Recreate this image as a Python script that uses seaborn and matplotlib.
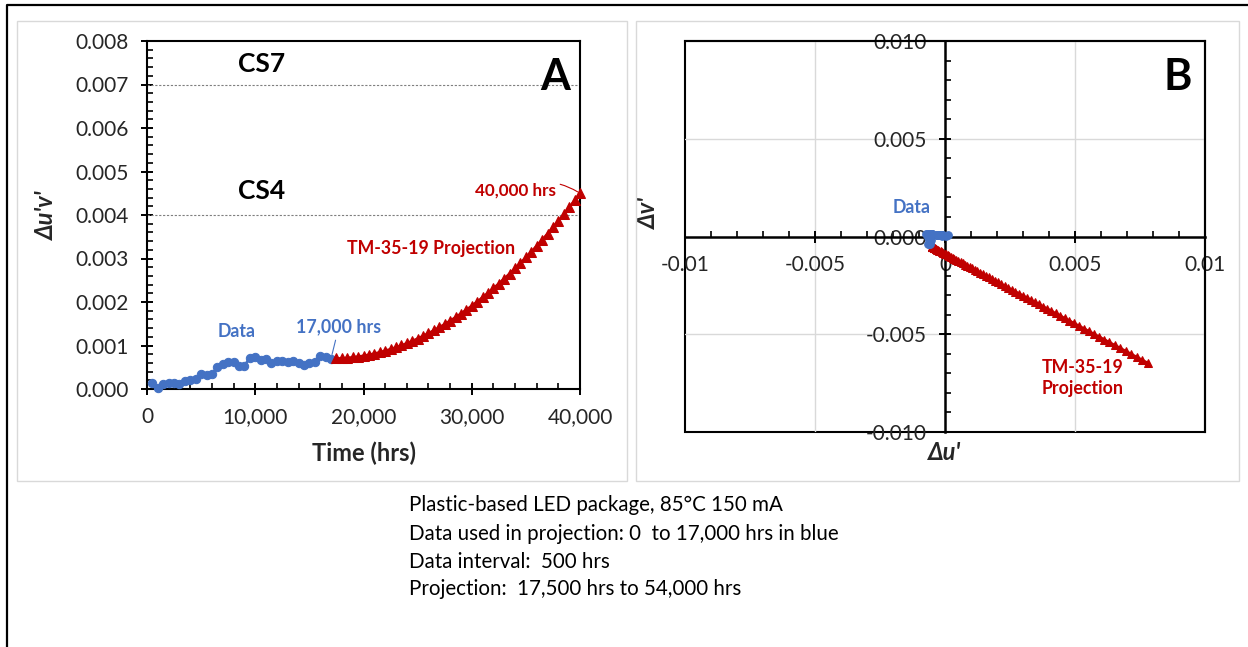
import numpy as np
import matplotlib
matplotlib.use("Agg")
import matplotlib.pyplot as plt
from matplotlib.patches import Rectangle
from matplotlib.lines import Line2D
from matplotlib.ticker import MultipleLocator
import seaborn as sns

# ---- measured chromaticity shift, plastic-based LED package (85 C, 150 mA) ----
hours_data = [500, 1000, 1500, 2000, 2500, 3000, 3500, 4000, 4500, 5000,
              5500, 6000, 6500, 7000, 7500, 8000, 8500, 9000, 9500, 10000,
              10500, 11000, 11500, 12000, 12500, 13000, 13500, 14000, 14500, 15000,
              15500, 16000, 16500, 17000]
duv_data = [0.000145, 0.000030, 0.000110, 0.000138, 0.000130, 0.000110, 0.000177, 0.000207, 0.000237, 0.000337,
            0.000314, 0.000337, 0.000506, 0.000580, 0.000620, 0.000620, 0.000530, 0.000530, 0.000720, 0.000736,
            0.000670, 0.000680, 0.000590, 0.000640, 0.000640, 0.000630, 0.000640, 0.000600, 0.000550, 0.000600,
            0.000630, 0.000760, 0.000740, 0.000700]

# ---- TM-35-19 projection of the shift magnitude ----
hours_proj = [17500, 18000, 18500, 19000, 19500, 20000, 20500, 21000, 21500, 22000,
              22500, 23000, 23500, 24000, 24500, 25000, 25500, 26000, 26500, 27000,
              27500, 28000, 28500, 29000, 29500, 30000, 30500, 31000, 31500, 32000,
              32500, 33000, 33500, 34000, 34500, 35000, 35500, 36000, 36500, 37000,
              37500, 38000, 38500, 39000, 39500, 40000]
duv_proj = [0.000702, 0.000707, 0.000716, 0.000729, 0.000745, 0.000765, 0.000788, 0.000815, 0.000845, 0.000880,
            0.000917, 0.000958, 0.001003, 0.001052, 0.001104, 0.001160, 0.001219, 0.001282, 0.001348, 0.001418,
            0.001492, 0.001569, 0.001650, 0.001734, 0.001822, 0.001913, 0.002009, 0.002107, 0.002210, 0.002316,
            0.002425, 0.002538, 0.002655, 0.002775, 0.002899, 0.003026, 0.003157, 0.003292, 0.003430, 0.003572,
            0.003717, 0.003866, 0.004019, 0.004175, 0.004335, 0.004498]

# ---- chromaticity components (du', dv'), measured ----
du_data = [0.00010, 0.00002, -0.00008, -0.00011, -0.00011, -0.00010, -0.00016, -0.00019, -0.00022, -0.00032,
           -0.00030, -0.00032, -0.00049, -0.00056, -0.00060, -0.00060, -0.00051, -0.00051, -0.00070, -0.00072,
           -0.00066, -0.00067, -0.00058, -0.00064, -0.00064, -0.00062, -0.00062, -0.00057, -0.00052, -0.00056,
           -0.00057, -0.00066, -0.00062, -0.00058]
dv_data = [0.00010, 0.00002, 0.00007, 0.00008, 0.00007, 0.00005, 0.00008, 0.00008, 0.00009, 0.00010,
           0.00009, 0.00010, 0.00012, 0.00013, 0.00014, 0.00014, 0.00012, 0.00012, 0.00014, 0.00013,
           0.00010, 0.00009, 0.00005, 0.00002, -0.00002, -0.00008, -0.00014, -0.00018, -0.00019, -0.00022,
           -0.00027, -0.00037, -0.00040, -0.00040]

# ---- chromaticity components, TM-35-19 projection 17,500 - 54,000 hrs ----
du_proj = [-0.000510, -0.000505, -0.000498, -0.000487, -0.000474, -0.000457, -0.000437, -0.000414, -0.000388, -0.000359,
           -0.000327, -0.000292, -0.000254, -0.000213, -0.000169, -0.000122, -0.000072, -0.000019, 0.000038, 0.000097,
           0.000159, 0.000225, 0.000293, 0.000365, 0.000439, 0.000517, 0.000598, 0.000681, 0.000768, 0.000858,
           0.000951, 0.001046, 0.001145, 0.001247, 0.001352, 0.001460, 0.001571, 0.001685, 0.001803, 0.001923,
           0.002046, 0.002172, 0.002302, 0.002434, 0.002569, 0.002708, 0.002849, 0.002994, 0.003142, 0.003292,
           0.003446, 0.003603, 0.003762, 0.003925, 0.004091, 0.004260, 0.004432, 0.004607, 0.004785, 0.004966,
           0.005150, 0.005337, 0.005527, 0.005720, 0.005917, 0.006116, 0.006318, 0.006524, 0.006732, 0.006944,
           0.007158, 0.007376, 0.007596, 0.007820]
dv_proj = [-0.000520, -0.000523, -0.000529, -0.000536, -0.000546, -0.000558, -0.000572, -0.000589, -0.000607, -0.000628,
           -0.000651, -0.000676, -0.000703, -0.000733, -0.000764, -0.000798, -0.000834, -0.000872, -0.000913, -0.000955,
           -0.001000, -0.001047, -0.001096, -0.001147, -0.001200, -0.001256, -0.001314, -0.001374, -0.001436, -0.001500,
           -0.001567, -0.001635, -0.001706, -0.001779, -0.001855, -0.001932, -0.002012, -0.002093, -0.002177, -0.002264,
           -0.002352, -0.002442, -0.002535, -0.002630, -0.002727, -0.002826, -0.002928, -0.003031, -0.003137, -0.003245,
           -0.003355, -0.003467, -0.003582, -0.003699, -0.003817, -0.003938, -0.004062, -0.004187, -0.004315, -0.004444,
           -0.004576, -0.004710, -0.004847, -0.004985, -0.005126, -0.005269, -0.005414, -0.005561, -0.005710, -0.005862,
           -0.006016, -0.006172, -0.006330, -0.006490]

# ---- reference levels and tick labels ----
cs_levels = [0.007, 0.004]
cs_names = ["CS7", "CS4"]
a_xticks = [0, 10000, 20000, 30000, 40000]
a_xlabels = ["0", "10,000", "20,000", "30,000", "40,000"]
a_yticks = [0.000, 0.001, 0.002, 0.003, 0.004, 0.005, 0.006, 0.007, 0.008]
a_ylabels = ["0.000", "0.001", "0.002", "0.003", "0.004", "0.005", "0.006", "0.007", "0.008"]
b_ticks = [-0.01, -0.005, 0.0, 0.005, 0.01]
b_xlabels = ["-0.01", "-0.005", "0", "0.005", "0.01"]
b_ylabels = ["-0.010", "-0.005", "0.000", "0.005", "0.010"]
caption = ["Plastic-based LED package, 85\u00b0C 150 mA",
           "Data used in projection: 0  to 17,000 hrs in blue",
           "Data interval:  500 hrs",
           "Projection:  17,500 hrs to 54,000 hrs"]

BLUE = "#4472C4"
RED = "#C00000"
GRID = "#d9d9d9"

sns.set_theme(style="white")
plt.rcParams["font.family"] = ["Lato", "DejaVu Sans"]
plt.rcParams["axes.unicode_minus"] = False

W, H = 1248, 647
fig = plt.figure(figsize=(W / 100, H / 100), dpi=100)
fig.patch.set_facecolor("white")


def fx(px):
    return px / W


def fy(py):
    return 1 - py / H


# outer frame (left and top edges) and the two chart boxes
fig.add_artist(Line2D([fx(7), fx(7), 1.0], [0.0, fy(5), fy(5)], color="black", lw=1.6,
                      transform=fig.transFigure))
for x0, x1 in [(17, 627), (636, 1239)]:
    fig.add_artist(Rectangle((fx(x0), fy(481)), fx(x1 - x0), (481 - 21) / H, fill=False,
                             edgecolor=GRID, lw=1.0, transform=fig.transFigure))

TICK_FS = 15
ANN_FS = 12.8
LAB_FS = 17

# ================= Panel A =================
axA = fig.add_axes([fx(147), fy(389), fx(580 - 147), (389 - 41) / H])
axA.set_facecolor("white")
for level in cs_levels:
    axA.axhline(level, color="#7f7f7f", lw=0.8, ls=(0, (2, 1.5)), zorder=1)

sns.lineplot(x=hours_data, y=duv_data, ax=axA, color=BLUE, marker="o", markersize=6,
             markeredgecolor=BLUE, linewidth=2, zorder=3, clip_on=False)
sns.lineplot(x=hours_proj, y=duv_proj, ax=axA, color=RED, marker="^", markersize=6.5,
             markeredgecolor=RED, linewidth=1.8, zorder=3, clip_on=False)

axA.set_xlim(0, 40000)
axA.set_ylim(0, 0.008)
axA.set_xticks(a_xticks, labels=a_xlabels)
axA.set_yticks(a_yticks, labels=a_ylabels)
axA.xaxis.set_minor_locator(MultipleLocator(2000))
axA.yaxis.set_minor_locator(MultipleLocator(0.0002))
axA.tick_params(which="major", direction="inout", length=8.5, width=1.4, color="black",
                labelsize=TICK_FS, pad=9, bottom=True, left=True)
axA.tick_params(which="minor", direction="in", length=4, width=1.2, color="black",
                bottom=True, left=True)
for sp in axA.spines.values():
    sp.set_color("black")
    sp.set_linewidth(1.5)

axA.set_xlabel("Time (hrs)", fontsize=LAB_FS, fontweight="bold")
axA.xaxis.set_label_coords(0.5, -0.15)
axA.set_ylabel("\u0394u'v'", fontsize=LAB_FS, fontweight="bold", fontstyle="italic")
axA.yaxis.set_label_coords(-0.205, 0.5)

for name, yfrac in zip(cs_names, [0.934, 0.569]):
    axA.text(0.2656, yfrac, name, transform=axA.transAxes, ha="center", va="center",
             fontsize=19, fontweight="bold", color="black")
axA.text(0.942, 0.897, "A", transform=axA.transAxes, ha="center", va="center",
         fontsize=31, fontweight="bold", color="black")
axA.text(0.208, 0.164, "Data", transform=axA.transAxes, ha="center", va="center",
         fontsize=ANN_FS, fontweight="bold", color=BLUE)
axA.annotate("17,000 hrs", xy=(hours_data[-1], duv_data[-1]), xytext=(0.443, 0.178),
             textcoords="axes fraction", ha="center", va="center", fontsize=ANN_FS,
             fontweight="bold", color=BLUE,
             arrowprops=dict(arrowstyle="-", color=BLUE, lw=0.8, shrinkA=1, shrinkB=3))
axA.text(0.656, 0.405, "TM-35-19 Projection", transform=axA.transAxes, ha="center",
         va="center", fontsize=ANN_FS, fontweight="bold", color=RED)
axA.annotate("40,000 hrs", xy=(hours_proj[-1], duv_proj[-1]), xytext=(0.85, 0.569),
             textcoords="axes fraction", ha="center", va="center", fontsize=ANN_FS - 0.5,
             fontweight="bold", color=RED,
             arrowprops=dict(arrowstyle="-", color=RED, lw=0.8, shrinkA=1, shrinkB=2,
                             connectionstyle="arc3,rad=-0.3"))

# ================= Panel B =================
axB = fig.add_axes([fx(685), fy(432), fx(1205 - 685), (432 - 41) / H])
axB.set_facecolor("white")
axB.set_xlim(-0.01, 0.01)
axB.set_ylim(-0.01, 0.01)
for g in [-0.005, 0.005]:
    axB.axvline(g, color=GRID, lw=1.0, zorder=0)
    axB.axhline(g, color=GRID, lw=1.0, zorder=0)

sns.lineplot(x=du_proj, y=dv_proj, ax=axB, sort=False, estimator=None, color=RED,
             marker="^", markersize=5.5, markeredgecolor=RED, linewidth=2, zorder=3)
sns.lineplot(x=du_data, y=dv_data, ax=axB, sort=False, estimator=None, color=BLUE,
             marker="o", markersize=5.5, markeredgecolor=BLUE, linewidth=2, zorder=4)

axB.spines["left"].set_position(("data", 0))
axB.spines["bottom"].set_position(("data", 0))
for side in ["left", "bottom"]:
    axB.spines[side].set_linewidth(1.8)
    axB.spines[side].set_color("black")
for side in ["top", "right"]:
    axB.spines[side].set_linewidth(1.5)
    axB.spines[side].set_color("black")
axB.patch.set_edgecolor("black")
axB.patch.set_linewidth(1.5)

axB.set_xticks(b_ticks, labels=b_xlabels)
axB.set_yticks(b_ticks, labels=b_ylabels)
axB.xaxis.set_minor_locator(MultipleLocator(0.001))
axB.yaxis.set_minor_locator(MultipleLocator(0.001))
axB.tick_params(which="major", direction="inout", length=8.5, width=1.4, color="black",
                labelsize=TICK_FS, pad=9, bottom=True, left=True)
axB.tick_params(which="minor", direction="in", length=4, width=1.2, color="black",
                bottom=True, left=True)

axB.text(-0.071, 0.56, "\u0394v'", transform=axB.transAxes, ha="center", va="center",
         rotation=90, fontsize=LAB_FS, fontweight="bold", fontstyle="italic")
axB.text(0.5, -0.053, "\u0394u'", transform=axB.transAxes, ha="center", va="center",
         fontsize=LAB_FS, fontweight="bold", fontstyle="italic")
axB.text(0.948, 0.908, "B", transform=axB.transAxes, ha="center", va="center",
         fontsize=31, fontweight="bold", color="black")
axB.text(0.4365, 0.573, "Data", transform=axB.transAxes, ha="center", va="center",
         fontsize=ANN_FS, fontweight="bold", color=BLUE)
axB.text(0.765, 0.138, "TM-35-19\nProjection", transform=axB.transAxes, ha="center",
         va="center", fontsize=ANN_FS, fontweight="bold", color=RED, linespacing=1.3)

# ================= caption =================
for line, py in zip(caption, [505, 534, 562, 589]):
    fig.text(fx(409), fy(py), line, ha="left", va="center", fontsize=14.8, color="black")

fig.savefig("out.png", dpi=100, facecolor="white")
